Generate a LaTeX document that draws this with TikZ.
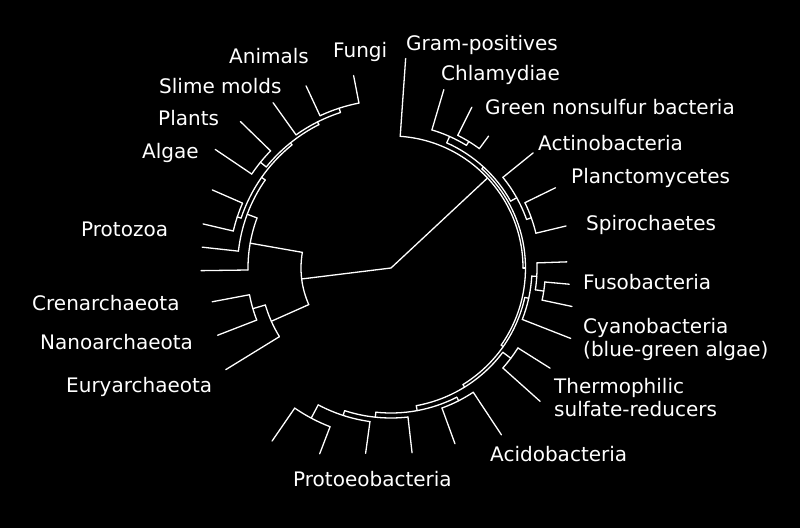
\documentclass[tikz,border=0pt]{standalone}
\usepackage{fontspec}
\setmainfont{DejaVu Sans}
\newcommand\tbr[3]{\draw[br] (#1:#2) -- (#1:#3);}
\newcommand\tarc[3]{\draw[br] (#2:#1) arc[start angle=#2, end angle=#3, radius=#1];}
\begin{document}
\begin{tikzpicture}[x=1pt,y=1pt,
  br/.style={draw=white,line width=1.3pt,line cap=round},
  lbl/.style={text=white,anchor=base west,inner sep=0pt,font=\fontsize{20}{23}\selectfont}]
\fill[black] (0,0) rectangle (800,528);
\useasboundingbox (0,0) rectangle (800,528);
\begin{scope}[shift={(391,260)}]
% root
\tbr{43}{0}{132}
\tbr{187}{0}{90}
\tarc{90}{170}{204}
\tbr{170}{90}{143}
\tbr{204}{90}{131}
% archaea
\tarc{131}{196.4}{211.6}
\tbr{211.6}{131}{194}
\tbr{196.4}{131}{144}
\tarc{144}{190.7}{201.2}
\tbr{190.7}{144}{182}
\tbr{201.2}{144}{186}
% eukaryotes
\tarc{143}{159.5}{180.8}
\tbr{180.8}{143}{190}
\tbr{159.5}{143}{153.5}
\tarc{153.5}{145}{173.7}
\tbr{173.7}{153.5}{190}
\tbr{145}{153.5}{158}
\tarc{158}{128.8}{161.6}
\tbr{161.6}{158}{162}
\tarc{162}{156.4}{166.8}
\tbr{156.4}{162}{195}
\tbr{166.8}{162}{193}
\tbr{128.8}{158}{160.5}
\tarc{160.5}{116.7}{141}
\tbr{141}{160.5}{168}
\tarc{168}{135.8}{146}
\tbr{135.8}{168}{210}
\tbr{146}{168}{212}
\tbr{116.7}{160.5}{163.5}
\tarc{163.5}{108}{125.5}
\tbr{125.5}{163.5}{203}
\tbr{108}{163.5}{168}
\tarc{168}{101}{115}
\tbr{101}{168}{196}
\tbr{115}{168}{201}
% bacteria
\tarc{132}{0}{86}
\tbr{86}{132}{210}
\tbr{0}{132}{134.5}
\tarc{134.5}{-35}{47.5}
\tbr{47.5}{134.5}{137}
\tarc{137}{29.2}{66}
\tbr{66}{137}{144}
\tarc{144}{58.4}{73.5}
\tbr{73.5}{144}{186}
\tbr{58.4}{144}{148.5}
\tarc{148.5}{53.5}{63.3}
\tbr{63.3}{148.5}{180}
\tbr{53.5}{148.5}{164}
\tbr{29.2}{137}{144}
\tarc{144}{19.7}{39}
\tbr{39}{144}{183}
\tbr{19.7}{144}{149}
\tarc{149}{13.5}{26}
\tbr{26}{149}{183}
\tbr{13.5}{149}{180}
\tbr{-35}{134.5}{137}
\tarc{137}{-58.3}{-12.4}
\tbr{-12.4}{137}{141}
\tarc{141}{-21.4}{-3.3}
\tbr{-3.3}{141}{146}
\tarc{146}{-8.6}{2}
\tbr{2}{146}{176}
\tbr{-8.6}{146}{154.5}
\tarc{154.5}{-12}{-5.2}
\tbr{-5.2}{154.5}{179}
\tbr{-12}{154.5}{185}
\tbr{-21.4}{141}{193}
\tbr{-58.3}{137}{140}
\tarc{140}{-79.6}{-37}
\tbr{-37}{140}{150}
\tarc{150}{-41.8}{-32.2}
\tbr{-32.2}{150}{188}
\tbr{-41.8}{150}{200}
\tbr{-79.6}{140}{145}
\tarc{145}{-96}{-63}
\tbr{-63}{145}{149}
\tarc{149}{-70}{-56.5}
\tbr{-56.5}{149}{200}
\tbr{-70}{149}{187}
\tbr{-96}{145}{150}
\tarc{150}{-108}{-83.5}
\tbr{-83.5}{150}{186}
\tbr{-108}{150}{155}
\tarc{155}{-118}{-97.8}
\tbr{-97.8}{155}{187}
\tbr{-118}{155}{170}
\tarc{170}{-124.5}{-111}
\tbr{-124.5}{170}{210}
\tbr{-111}{170}{199}
\end{scope}
% labels (x, 528 - baseline)
\node[lbl] (animals) at (229,464) {Animals};
\node[lbl] (fungi) at (333,470) {Fungi};
\node[lbl] (slime) at (159,434) {Slime molds};
\node[lbl] (plants) at (158,402) {Plants};
\node[lbl] (algae) at (142,369) {Algae};
\node[lbl] (protozoa) at (81,291) {Protozoa};
\node[lbl] (cren) at (32,218) {Crenarchaeota};
\node[lbl] (nano) at (40,179) {Nanoarchaeota};
\node[lbl] (eury) at (66,136) {Euryarchaeota};
\node[lbl] (gram) at (406,477) {Gram-positives};
\node[lbl] (chlam) at (441,447) {Chlamydiae};
\node[lbl] (green) at (485,413) {Green nonsulfur bacteria};
\node[lbl] (actino) at (538,377) {Actinobacteria};
\node[lbl] (planc) at (571,344) {Planctomycetes};
\node[lbl] (spiro) at (586,297) {Spirochaetes};
\node[lbl] (fuso) at (583,239) {Fusobacteria};
\node[lbl] (cyano) at (583,195) {Cyanobacteria};
\node[lbl] (cyano2) at (583,172) {(blue-green algae)};
\node[lbl] (thermo) at (554,135) {Thermophilic};
\node[lbl] (thermo2) at (554,112) {sulfate-reducers};
\node[lbl] (acido) at (490,67) {Acidobacteria};
\node[lbl] (proteo) at (293,42) {Protoeobacteria};
\end{tikzpicture}
\end{document}
